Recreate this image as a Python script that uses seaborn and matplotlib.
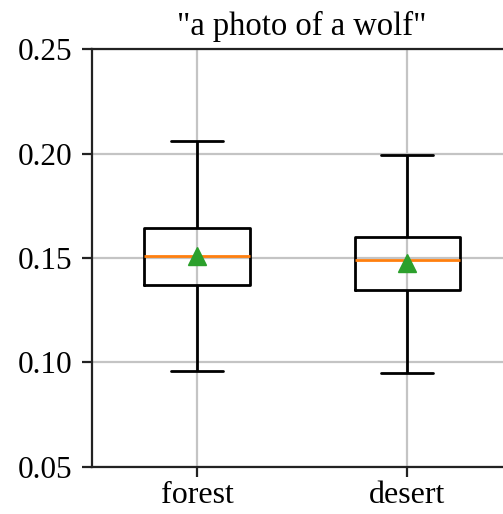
import numpy as np
import pandas as pd
import matplotlib
matplotlib.use("Agg")
import matplotlib.pyplot as plt
import seaborn as sns

# Scenes and their score summaries (min, Q1, median, Q3, max)
scenes = ["forest", "desert"]
forest_scores = [0.0960, 0.1371, 0.1510, 0.1645, 0.2061]
desert_scores = [0.0947, 0.1347, 0.1492, 0.1602, 0.1994]
yticks = [0.05, 0.10, 0.15, 0.20, 0.25]
ytick_labels = ["0.05", "0.10", "0.15", "0.20", "0.25"]
title = '"a photo of a wolf"'

df = pd.DataFrame({
    "scene": ["forest"] * len(forest_scores) + ["desert"] * len(desert_scores),
    "score": forest_scores + desert_scores,
})

sns.set_theme(style="white")
plt.rcParams["font.family"] = ["Liberation Serif", "DejaVu Serif"]
plt.rcParams["text.color"] = "black"

fig = plt.figure(figsize=(5.03, 5.14), dpi=100)
ax = fig.add_axes([0.1829, 0.0920, 0.835, 0.8121])

sns.boxplot(
    data=df, x="scene", y="score", order=scenes, ax=ax,
    width=0.5, whis=(0, 100), fill=False, color="black", linewidth=2,
    showmeans=True,
    meanprops=dict(marker="^", markerfacecolor="#2ca02c",
                   markeredgecolor="#2ca02c", markersize=13),
    medianprops=dict(color="#ff7f0e", linewidth=2),
)

ax.set_ylim(0.05, 0.25)
ax.set_yticks(yticks)
ax.set_yticklabels(ytick_labels)
ax.set_xlabel("")
ax.set_ylabel("")
ax.set_axisbelow(True)
ax.grid(True, axis="both", color="#c4c4c4", linewidth=1.6)

for side in ["left", "top", "bottom", "right"]:
    ax.spines[side].set_visible(True)
    ax.spines[side].set_color("#222222")
    ax.spines[side].set_linewidth(1.6)

ax.tick_params(axis="both", direction="out", length=7, width=1.6,
               color="#222222", labelcolor="black",
               left=True, bottom=True)
ax.tick_params(axis="x", labelsize=23, pad=3)
ax.tick_params(axis="y", labelsize=22.5, pad=7)
ax.set_title(title, fontsize=23.5, pad=10, color="black")

fig.savefig("out.png", dpi=100)
